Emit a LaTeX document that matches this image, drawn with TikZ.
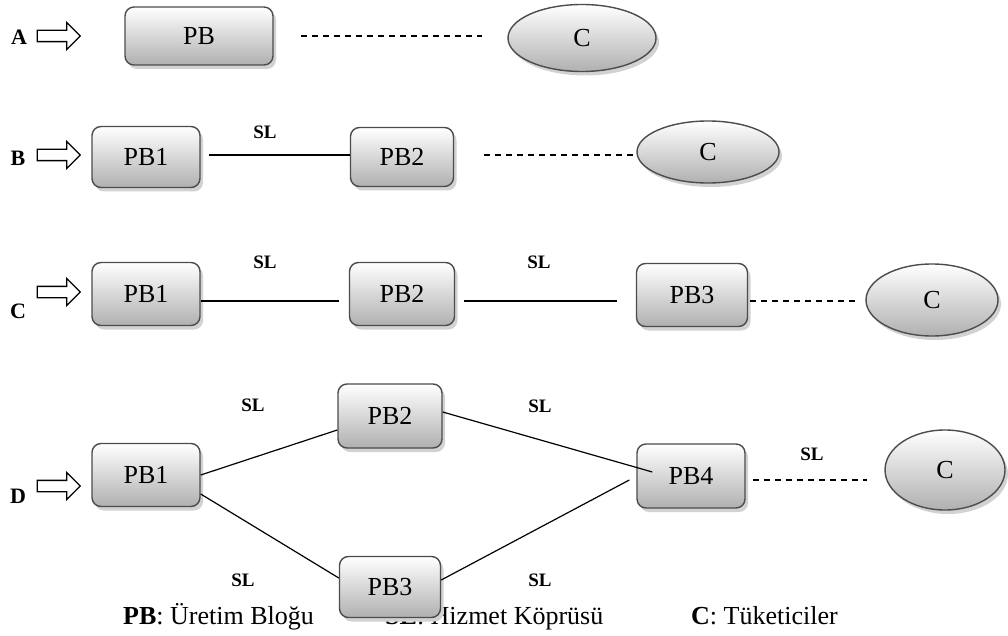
\documentclass[tikz,border=0pt]{standalone}
\usepackage{fontspec}
\setmainfont{Liberation Serif}
\usetikzlibrary{shapes.geometric,shapes.arrows,shadows}
\tikzset{
  boxshadow/.style={drop shadow={shadow xshift=3pt, shadow yshift=-4pt, fill=gray!35, opacity=1}},
  pbox/.style={rectangle, draw=gray!60!black, line width=1.4pt, rounded corners=9pt,
    top color=white, bottom color=gray!62, minimum width=108pt, minimum height=62pt,
    inner sep=0pt, font=\fontsize{26}{30}\selectfont, boxshadow},
  cell/.style={ellipse, draw=gray!60!black, line width=1.4pt, top color=white, bottom color=gray!62,
    inner sep=0pt, font=\fontsize{26}{30}\selectfont, boxshadow},
  rowarrow/.style={single arrow, draw=black, line width=1.3pt, fill=white, minimum height=43pt,
    single arrow head extend=8pt, inner sep=5pt},
  rowlabel/.style={font=\bfseries\fontsize{22}{26}\selectfont, inner sep=0pt},
  sl/.style={font=\bfseries\fontsize{19}{22}\selectfont, inner sep=0pt},
  link/.style={line width=1.2pt, black},
  dlink/.style={link, dash pattern=on 6pt off 5pt},
  legend/.style={font=\fontsize{26}{30}\selectfont, inner sep=0pt, anchor=base west},
}
\begin{document}
\begin{tikzpicture}[x=1pt,y=-1pt]
\useasboundingbox[fill=white] (0,0) rectangle (1008,636);

% ---------- Row A ----------
\node[rowlabel] (LA) at (19,37) {A};
\node[rowarrow] (RA) at (56,36) {};
\node[pbox, minimum width=148pt, minimum height=58pt] (A1) at (199,36) {PB};
\node[cell, minimum width=148pt, minimum height=67pt] (AC) at (582,38) {C};
\draw[dlink, shorten <=27pt, shorten >=25pt] (A1.east) -- (A1.east -| AC.west);

% ---------- Row B ----------
\node[rowlabel] (LB) at (18,158) {B};
\node[rowarrow] (RB) at (56,155) {};
\node[pbox, minimum height=61pt] (B1) at (146,157) {PB1};
\node[pbox, minimum width=103pt, minimum height=59pt] (B2) at (402,157) {PB2};
\node[cell, minimum width=142pt, minimum height=62pt] (BC) at (708,152) {C};
\node[sl] (SLB) at (265,132) {SL};
\draw[link, shorten <=8pt] ([yshift=2pt]B1.east) -- ([yshift=2pt]B2.west);
\draw[dlink, shorten <=30pt] ([yshift=2pt]B2.east) -- ([yshift=2pt]B2.east -| BC.west);

% ---------- Row C ----------
\node[rowlabel] (LC) at (18,311) {C};
\node[rowarrow] (RC) at (56,292) {};
\node[pbox, minimum height=63pt] (C1) at (146,294) {PB1};
\node[pbox, minimum width=105pt, minimum height=63pt] (C2) at (402,294) {PB2};
\node[pbox, minimum width=111pt, minimum height=63pt] (C3) at (692,295) {PB3};
\node[cell, minimum width=132pt, minimum height=72pt] (CC) at (932,300) {C};
\node[sl] (SLC1) at (265,262) {SL};
\node[sl] (SLC2) at (539,262) {SL};
\draw[link, shorten >=10pt] ([yshift=-7pt]C1.east) -- ([yshift=-7pt]C1.east -| C2.west);
\draw[link, shorten <=9pt, shorten >=19pt] ([yshift=-7pt]C2.east) -- ([yshift=-7pt]C2.east -| C3.west);
\draw[dlink, shorten <=2pt, shorten >=8pt] ([yshift=-6pt]C3.east) -- ([yshift=-6pt]C3.east -| CC.west);

% ---------- Legend (partly hidden by PB3 of row D) ----------
\node[legend] (LG1) at (123,624) {\textbf{PB}: Üretim Bloğu};
\node[legend] (LG2) at (385,624) {\textbf{SL}: Hizmet Köprüsü};
\node[legend] (LG3) at (691,624) {\textbf{C}: Tüketiciler};

% ---------- Row D ----------
\node[rowlabel] (LD) at (18,496) {D};
\node[rowarrow] (RD) at (56,486) {};
\node[pbox, minimum height=63pt] (D1) at (146,475) {PB1};
\node[pbox, minimum width=104pt, minimum height=64pt] (D2) at (390,416) {PB2};
\node[pbox, minimum width=101pt, minimum height=61pt] (D3) at (390,587) {PB3};
\node[pbox, minimum height=64pt] (D4) at (691,476) {PB4};
\node[cell, minimum width=120pt, minimum height=80pt] (DC) at (945,470) {C};
\node[sl] (SLD1) at (253,405) {SL};
\node[sl] (SLD2) at (540,406) {SL};
\node[sl] (SLD3) at (812,454) {SL};
\node[sl] (SLD4) at (243,580) {SL};
\node[sl] (SLD5) at (540,580) {SL};
\draw[link] (D1.east) -- ([yshift=-14pt]D2.west);
\draw[link] ([yshift=-19pt]D1.east) -- ([yshift=9pt]D3.west);
\draw[link] ([yshift=4pt]D2.east) -- ([xshift=16pt,yshift=4pt]D4.west);
\draw[link] ([yshift=7pt]D3.east) -- ([xshift=-7pt,yshift=-4pt]D4.west);
\draw[dlink, shorten <=7pt, shorten >=17pt] ([yshift=-4pt]D4.east) -- ([yshift=-4pt]D4.east -| DC.west);
\end{tikzpicture}
\end{document}
